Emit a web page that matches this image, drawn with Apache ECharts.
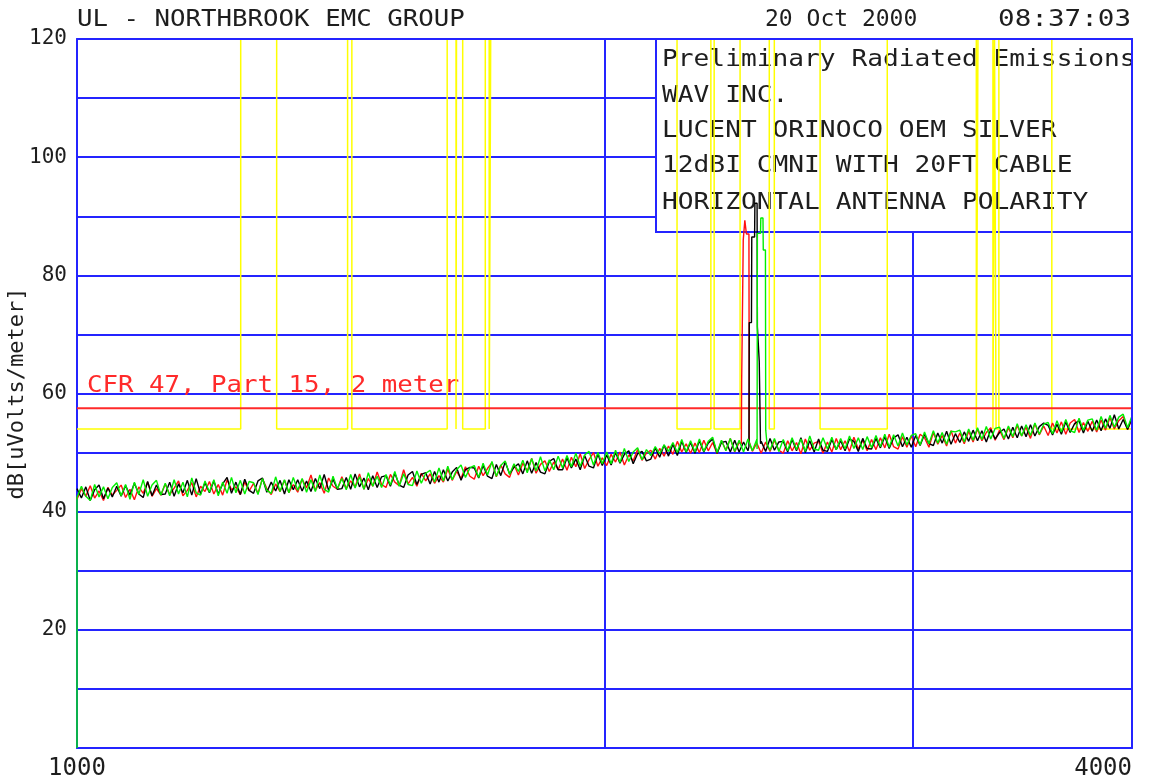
<!DOCTYPE html>
<html><head><meta charset="utf-8">
<script src="https://cdn.jsdelivr.net/npm/echarts@6/dist/echarts.min.js"></script>
<style>html,body{margin:0;padding:0;background:#fff}#c{width:1169px;height:783px}</style>
</head><body><div id="c"></div>
<script>
// ---- sweep definition (MHz) ----
const sweepStartMHz = 1000, sweepStopMHz = 4000, sweepPoints = 240;

// ---- trace readings (dBuV/m), one value per sweep point ----
const redValues = [
42.1,43.9,42.6,44.4,42.3,43.5,41.9,44.1,42.8,43.6,
44.5,42.4,43.8,42.0,44.2,43.1,45.0,42.6,43.9,42.8,
44.7,42.9,44.0,45.2,42.7,43.6,44.9,42.5,44.3,43.4,
45.1,43.0,44.6,42.8,45.4,43.7,44.2,42.9,45.0,43.5,
44.8,43.1,45.6,43.9,42.9,44.7,43.4,45.3,43.2,44.6,
43.3,45.5,44.0,46.2,43.6,44.9,43.1,45.7,44.3,43.8,
45.9,43.9,45.2,44.2,46.4,43.8,45.6,44.3,46.7,44.6,
44.1,46.3,45.0,44.4,47.1,44.7,45.8,44.3,46.5,45.2,
46.4,44.8,46.1,45.0,47.2,45.3,46.8,45.6,47.6,46.0,
45.5,47.7,46.1,47.3,48.3,45.9,47.9,46.4,45.8,48.0,
46.2,48.2,46.9,49.0,46.5,48.0,48.6,46.8,48.4,47.1,
48.9,47.0,49.2,47.6,49.8,47.3,48.8,50.0,47.7,49.1,
47.8,49.7,48.4,50.1,47.9,49.6,48.6,50.5,48.7,49.9,
50.4,48.9,50.7,49.4,51.1,49.7,51.9,50.1,51.5,49.9,
51.6,50.0,52.1,50.3,51.7,49.8,52.0,50.4,52.4,50.1,
51.7,50.0,51.9,50.2,51.6,49.9,51.8,50.2,52.1,50.4,
49.9,52.0,50.3,51.7,49.8,52.3,50.4,51.6,51.9,49.9,
51.8,50.1,52.4,50.5,52.0,50.2,52.6,50.6,52.1,50.3,
52.2,50.5,52.5,50.8,53.1,51.0,50.6,52.7,50.9,52.8,
51.0,53.1,52.5,50.9,53.4,51.4,52.9,51.1,53.7,51.6,
53.3,51.5,53.6,51.8,54.0,52.0,53.4,54.2,52.1,53.8,
52.2,54.2,52.5,54.6,52.8,54.3,52.4,54.9,53.0,54.5,
52.9,55.0,53.3,55.2,53.1,55.0,55.6,53.4,55.1,53.6,
55.3,53.5,55.5,53.8,55.9,54.0,55.4,56.1,53.9,55.7];

const blackValues = [
43.9,42.3,44.2,41.9,43.7,44.5,42.2,44.0,42.5,44.3,
42.6,44.4,42.8,44.8,43.0,42.4,45.1,42.7,44.5,42.9,
43.0,45.0,42.6,44.7,43.2,45.3,42.8,45.6,43.0,44.9,
43.2,45.2,43.0,44.7,45.8,43.1,45.0,42.9,45.5,43.6,
43.1,45.2,45.7,43.3,45.0,43.5,45.3,43.0,45.4,43.7,
45.4,43.5,45.2,43.4,45.6,43.9,46.3,43.6,45.5,43.8,
43.9,45.8,43.8,46.4,44.2,45.7,43.7,46.1,44.1,45.9,
46.1,44.3,46.5,44.5,44.1,46.2,46.8,44.6,46.3,46.6,
44.7,46.8,45.0,47.1,45.2,46.7,47.5,45.3,47.1,47.5,
47.4,45.7,47.8,46.0,45.6,48.0,46.1,48.4,46.4,47.5,
48.1,46.4,48.6,46.5,48.3,46.7,46.4,48.5,49.0,47.1,
47.1,49.1,47.4,48.9,47.1,49.5,47.7,47.4,49.7,47.8,
49.6,47.9,50.0,48.2,49.7,50.3,48.1,49.8,50.2,48.6,
48.9,50.8,49.2,51.3,49.4,51.4,49.5,51.9,50.0,51.7,
49.9,52.0,50.1,51.6,52.3,49.9,51.7,51.9,50.1,52.1,
50.1,51.8,50.3,52.1,50.0,51.9,50.2,52.4,50.4,51.8,
51.9,50.1,52.2,50.3,52.5,50.0,52.0,50.1,52.3,50.4,
50.2,52.2,50.5,52.0,50.3,52.3,51.9,50.2,52.4,50.7,
50.6,52.4,50.8,52.7,50.7,52.5,53.0,51.0,52.6,50.9,
52.9,51.2,53.1,51.5,51.2,53.3,51.6,53.6,51.4,53.2,
51.7,53.5,51.9,53.8,52.0,53.7,51.8,53.9,52.3,53.4,
54.0,52.3,54.3,52.5,54.5,52.7,54.7,52.8,54.4,55.0,
54.6,53.0,54.8,53.1,55.2,53.4,54.9,55.4,53.3,55.3,
53.6,55.5,53.7,55.7,54.1,56.4,54.0,55.6,53.9,55.9];

const greenValues = [
42.4,44.3,42.6,41.9,44.6,42.5,44.2,42.2,44.1,44.9,
42.7,44.6,42.1,45.0,42.9,45.4,42.6,44.5,45.3,42.8,
44.8,42.7,45.4,43.0,45.0,42.5,45.7,43.2,42.8,45.2,
43.3,45.4,42.7,45.0,43.1,45.8,43.2,45.3,43.0,45.1,
44.9,42.9,45.6,43.6,43.1,45.9,43.4,45.4,43.2,45.8,
43.6,45.6,43.3,45.4,43.4,46.2,43.8,43.3,46.0,43.9,
45.6,43.7,46.3,44.0,45.9,43.8,46.6,44.3,46.0,44.1,
46.3,44.5,46.8,44.3,46.4,44.6,44.4,46.9,44.8,46.5,
47.0,45.0,47.4,45.2,47.7,45.4,47.1,47.9,45.8,47.4,
47.8,45.8,48.2,46.2,48.5,46.0,47.8,48.6,46.3,48.1,
46.8,48.7,46.6,49.0,46.9,49.3,46.9,48.8,47.1,49.4,
47.4,49.5,47.6,49.9,47.7,49.6,50.2,47.9,50.0,48.1,
50.1,48.1,50.4,48.3,50.7,48.5,50.1,50.8,48.8,50.5,
49.5,51.0,49.8,51.3,50.2,51.7,50.0,52.2,50.1,52.0,
50.1,52.3,50.2,51.9,52.6,50.0,52.1,50.3,52.4,50.2,
52.1,50.1,52.3,50.3,52.2,50.2,52.5,50.4,52.4,50.2,
52.2,50.3,52.5,50.5,52.3,50.2,52.8,50.6,50.4,52.5,
50.6,52.6,50.5,52.4,50.6,52.8,50.7,52.5,50.5,52.7,
50.8,52.9,51.0,53.1,50.9,53.0,51.1,53.3,51.3,52.9,
53.2,51.3,53.5,51.5,53.7,51.6,53.4,51.4,53.6,53.5,
53.8,51.8,54.0,52.1,54.2,52.2,54.4,52.3,54.1,54.3,
52.4,54.5,52.7,54.9,52.8,54.7,52.9,55.0,53.1,54.8,
55.1,53.2,55.4,53.5,55.6,53.7,53.4,55.8,53.8,55.5,
55.7,53.8,56.1,54.1,56.3,54.3,56.0,56.5,54.2,56.2];

// ---- carrier peaks [MHz, dBuV/m] ----
const redSpike   = [[2394,51.5],[2395,62.0],[2399,62.0],[2400,86.0],[2404,86.0],[2405,89.3],[2409,89.2],[2410,87.0],[2418,87.0],[2419,51.8]];
const blackSpike = [[2418,51.0],[2419,72.0],[2426,72.0],[2427,86.5],[2436,86.5],[2437,92.2],[2444,92.2],[2445,71.3],[2450,71.3],[2451,65.4],[2454,65.4],[2455,51.5]];
const greenSpike = [[2444,50.6],[2445,87.1],[2455,87.1],[2456,89.7],[2463,89.7],[2464,84.3],[2471,84.3],[2472,53.8],[2476,51.5]];
const greenStart = [[1000,0]];

// ---- restricted bands (MHz) and levels ----
const restrictedBands = [[960,1240],[1300,1427],[1435,1626.5],[1645.5,1646.5],[1660,1710],[1718.8,1722.2],
  [2200,2300],[2310,2390],[2483.5,2500],[2655,2900],[3260,3267],[3332,3339],[3345.8,3358],[3600,4400]];
const restrictedLevel = 54, maskTop = 120;
const limitLevel = 57.5;

// ---- axes ----
const yMin = 0, yMax = 120, yStep = 10;
const yLabelValues = [20,40,60,80,100,120];
const xLabelValues = [1000,4000];
const xGridValues = [2000,3000];

// ---- texts ----
const headerLeft = 'UL - NORTHBROOK EMC GROUP';
const headerDate = '20 Oct 2000';
const headerTime = '08:37:03';
const infoLines = ['Preliminary Radiated Emissions','WAV INC.','LUCENT ORINOCO OEM SILVER','12dBI CMNI WITH 20FT CABLE','HORIZONTAL ANTENNA POLARITY'];
const infoBoxCorner = [2140, 87.3];
const limitLabel = 'CFR 47, Part 15, 2 meter';
const yAxisTitle = 'dB[uVolts/meter]';

// ---- build ----
const BLUE = '#2424ff', FONT = '"DejaVu Sans Mono", monospace', TXT = '#1e1e1e';
const freqs = Array.from({length: sweepPoints}, (_, i) => sweepStartMHz * Math.pow(sweepStopMHz / sweepStartMHz, i / (sweepPoints - 1)));
function buildTrace(values, spike, lead) {
  const lo = spike[0][0], hi = spike[spike.length - 1][0];
  const pts = values.map((v, i) => [freqs[i], v]).filter(p => p[0] < lo || p[0] > hi);
  return (lead || []).concat(pts, spike).sort((a, b) => a[0] - b[0]);
}
const maskData = [];
restrictedBands.forEach(([a, b]) => {
  const s = Math.max(a, sweepStartMHz), e = Math.min(b, sweepStopMHz);
  if (e <= s) return;
  if (a >= sweepStartMHz) maskData.push([s, maskTop]);
  maskData.push([s, restrictedLevel], [e, restrictedLevel]);
  if (b <= sweepStopMHz) maskData.push([e, maskTop]);
});

const chart = echarts.init(document.getElementById('c'), null, {renderer: 'canvas', devicePixelRatio: 1});
const lineBase = {type: 'line', showSymbol: false, symbol: 'none', animation: false, silent: true};
chart.setOption({
  animation: false,
  grid: {left: 77, right: 37, top: 39, bottom: 35, containLabel: false, outerBoundsMode: 'none'},
  xAxis: [
    {type: 'log', logBase: 10, min: sweepStartMHz, max: sweepStopMHz, position: 'bottom',
     axisLine: {show: true, onZero: false, lineStyle: {color: BLUE, width: 2}},
     axisTick: {show: false}, splitLine: {show: false}, minorSplitLine: {show: false},
     axisLabel: {show: true, customValues: xLabelValues, margin: 9, color: TXT, fontFamily: FONT, fontSize: 24,
       formatter: v => String(Math.round(v)),
       alignMinLabel: 'center', alignMaxLabel: 'right', showMinLabel: true, showMaxLabel: true}},
    {type: 'log', logBase: 10, min: sweepStartMHz, max: sweepStopMHz, position: 'top', z: 10,
     axisLine: {show: true, onZero: false, lineStyle: {color: BLUE, width: 2}},
     axisTick: {show: false}, splitLine: {show: false}, axisLabel: {show: false}}
  ],
  yAxis: [
    {type: 'value', min: yMin, max: yMax, interval: yStep, position: 'left',
     name: yAxisTitle, nameLocation: 'middle', nameRotate: 90, nameGap: 49, nameMoveOverlap: false,
     nameTextStyle: {color: TXT, fontFamily: FONT, fontSize: 22},
     axisLine: {show: true, onZero: false, lineStyle: {color: BLUE, width: 2}},
     axisTick: {show: false},
     splitLine: {show: true, lineStyle: {color: BLUE, width: 2}},
     axisLabel: {margin: 10, color: TXT, fontFamily: FONT, fontSize: 21,
       formatter: v => yLabelValues.indexOf(v) >= 0 ? String(v) : ''}},
    {type: 'value', min: yMin, max: yMax, position: 'right', z: 10,
     axisLine: {show: true, onZero: false, lineStyle: {color: BLUE, width: 2}},
     axisTick: {show: false}, splitLine: {show: false}, axisLabel: {show: false}}
  ],
  series: [
    Object.assign({}, lineBase, {name: 'grid', data: [], z: 1,
      markLine: {silent: true, z: 1, symbol: ['none', 'none'], label: {show: false}, animation: false,
        lineStyle: {color: BLUE, width: 2, type: 'solid'},
        data: xGridValues.map(v => ({xAxis: v}))}}),
    Object.assign({}, lineBase, {name: 'restricted', data: maskData, lineStyle: {color: '#ffff00', width: 1.5}}),
    Object.assign({}, lineBase, {name: 'limit', data: [[sweepStartMHz, limitLevel], [sweepStopMHz, limitLevel]], lineStyle: {color: '#ff2a2a', width: 2}}),
    Object.assign({}, lineBase, {name: 'red', data: buildTrace(redValues, redSpike), lineStyle: {color: '#ff1010', width: 1.4}}),
    Object.assign({}, lineBase, {name: 'black', data: buildTrace(blackValues, blackSpike), lineStyle: {color: '#000000', width: 1.4}}),
    Object.assign({}, lineBase, {name: 'green', data: buildTrace(greenValues, greenSpike, greenStart), lineStyle: {color: '#00ee00', width: 1.4}})
  ]
});

// ---- annotations placed from the axes ----
const px = p => chart.convertToPixel({xAxisIndex: 0, yAxisIndex: 0}, p);
const bTL = px([infoBoxCorner[0], yMax]);
const bBR = px([sweepStopMHz, infoBoxCorner[1]]);
const bx = Math.round(bTL[0]), by = Math.round(bTL[1]);
const bw = Math.round(bBR[0]) - bx, bh = Math.round(bBR[1]) - by;
const lab = px([sweepStartMHz, 60]);
function txt(text, x, y, sx, opts) {
  return Object.assign({type: 'text', x, y, z: 1.6, scaleX: sx, silent: true,
    style: {text, font: '23px ' + FONT, fill: (opts && opts.fill) || TXT, align: (opts && opts.align) || 'left', verticalAlign: 'middle'}},
    opts && opts.z ? {z: opts.z} : {});
}
const els = [
  {type: 'rect', z: 1.5, silent: true, shape: {x: bx, y: by, width: bw, height: bh},
   style: {fill: '#ffffff', stroke: BLUE, lineWidth: 2}},
  txt(headerLeft, 77, 20, 1.12),
  txt(headerDate, 765, 20, 1.0),
  txt(headerTime, 1131, 20, 1.2, {align: 'right'}),
  txt(limitLabel, lab[0] + 10, lab[1] - 7, 1.12, {fill: '#ff2a2a', z: 3})
];
const lineOffsets = [21, 57, 92.5, 127.5, 164];
infoLines.forEach((t, i) => els.push(txt(t, bx + 6, by + lineOffsets[i], 1.14)));
chart.setOption({graphic: {elements: els}});
</script></body></html>
